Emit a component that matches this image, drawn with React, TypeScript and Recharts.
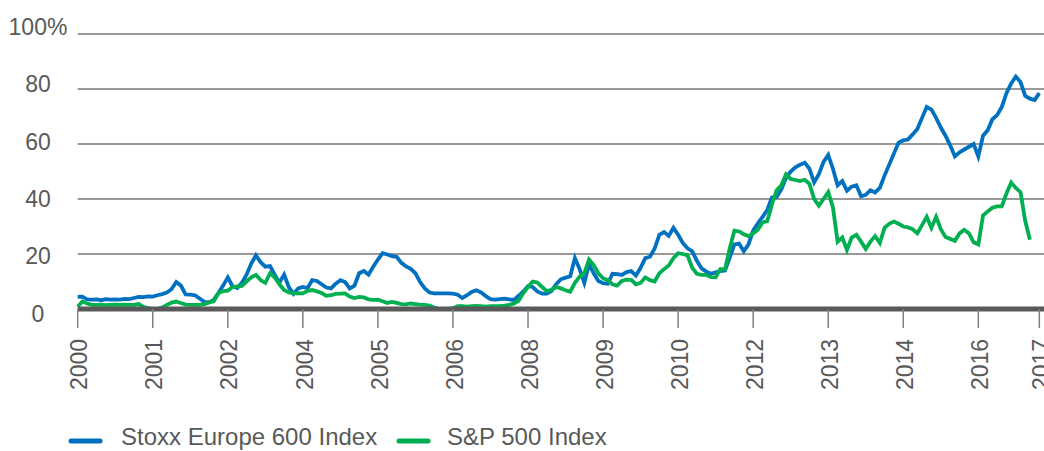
import React from 'react';
import { LineChart, Line, XAxis, YAxis, CartesianGrid } from 'recharts';

// monthly values, index 0 = Jan 2000
const stoxx = [
  4.4, 4.5, 3.5, 3.4, 3.5, 3.2, 3.6, 3.4, 3.5, 3.4,
  3.7, 3.6, 4.0, 4.4, 4.3, 4.6, 4.5, 5.0, 5.4, 6.0,
  7.2, 9.8, 8.5, 5.3, 5.2, 5.0, 3.8, 2.6, 2.4, 3.3,
  5.8, 8.5, 11.5, 8.3, 7.6, 9.5, 12.5, 16.5, 19.5, 17.0,
  15.4, 15.6, 12.5, 9.6, 12.5, 8.0, 5.5, 7.5, 8.0, 7.6,
  10.5, 10.2, 9.0, 7.8, 7.5, 9.2, 10.5, 9.8, 7.5, 8.5,
  13.0, 13.8, 12.5, 15.4, 18.0, 20.3, 19.8, 19.2, 19.0, 16.8,
  15.5, 14.6, 13.0, 9.8, 7.5, 6.0, 5.7, 5.7, 5.7, 5.7,
  5.6, 5.2, 4.0, 5.0, 6.2, 6.8, 6.0, 4.7, 3.6, 3.4,
  3.6, 3.8, 3.5, 3.3, 4.8, 6.4, 8.3, 8.0, 6.4, 5.6,
  5.6, 6.5, 9.0, 10.8, 11.4, 11.9, 18.5, 14.5, 9.5, 16.3,
  13.0, 10.2, 9.4, 9.2, 12.8, 12.7, 12.4, 13.4, 13.8, 12.2,
  15.0, 18.5, 19.0, 22.0, 27.0, 28.0, 26.6, 29.5, 27.0, 24.0,
  22.1, 21.0, 17.5, 14.8, 13.6, 12.8, 13.3, 13.8, 14.0, 18.7,
  23.5, 23.8, 21.0, 23.5, 28.5, 31.2, 33.5, 36.0, 40.5, 40.7,
  43.5, 47.7, 50.0, 51.5, 52.5, 53.2, 51.0, 46.0, 49.0, 53.5,
  56.0, 51.0, 45.0, 46.5, 43.0, 44.5, 45.0, 41.0, 41.5, 43.2,
  42.4, 44.0, 48.5, 52.5, 56.5, 60.5, 61.3, 61.6, 63.5, 65.5,
  69.5, 73.5, 72.5, 69.5, 66.0, 63.0, 59.5, 55.5, 57.0, 58.0,
  59.0, 60.0, 55.5, 63.0, 65.0, 69.0, 70.5, 73.5, 78.5, 82.0,
  84.5, 82.5, 77.5, 76.5, 76.0, 78.5,
];

const sp500 = [
  0.8, 2.7, 2.0, 1.5, 1.5, 1.6, 1.4, 1.5, 1.6, 1.5,
  1.6, 1.5, 1.5, 1.8, 0.8, 0.3, 0, 0, 0.5, 1.5,
  2.3, 2.7, 2.2, 1.6, 1.5, 1.5, 1.5, 1.8, 2.4, 2.8,
  5.8, 6.5, 6.7, 8.0, 8.2, 8.4, 10.0, 11.5, 12.4, 10.5,
  9.5, 13.0, 11.5, 9.0, 6.9, 6.0, 5.7, 5.7, 5.7, 6.6,
  6.9, 6.4, 5.8, 4.8, 5.0, 5.5, 5.6, 5.7, 4.5, 4.0,
  4.4, 4.2, 3.5, 3.3, 3.4, 2.8, 2.2, 2.6, 2.2, 1.8,
  1.7, 2.0, 1.8, 1.6, 1.5, 1.2, 0.5, 0, 0, 0,
  0.3, 1.0, 1.0, 0.9, 1.0, 1.1, 1.0, 0.9, 1.0, 1.0,
  1.0, 1.2, 1.5, 2.0, 3.0, 5.8, 8.0, 10.0, 9.6, 8.0,
  6.5, 7.0, 8.0, 7.5, 6.8, 6.3, 9.5, 11.8, 13.0, 18.0,
  16.0, 13.0, 11.2, 10.5, 9.0, 8.5, 10.2, 10.7, 10.6, 9.0,
  9.5, 11.5, 10.5, 10.0, 13.0, 14.5, 15.8, 18.5, 20.3, 20.0,
  19.5, 15.0, 12.8, 12.4, 12.4, 11.6, 11.5, 14.5, 14.5, 22.0,
  28.5, 28.2, 27.2, 26.5, 27.5, 28.8, 31.5, 31.9, 38.0, 43.2,
  45.0, 49.0, 47.3, 46.9, 46.5, 47.0, 45.5, 40.0, 37.6, 40.0,
  42.5, 37.0, 24.5, 26.0, 21.5, 26.0, 27.0, 24.5, 21.8, 24.5,
  26.5, 24.0, 29.5, 31.0, 31.8, 31.0, 30.0, 29.7, 29.0, 27.5,
  30.5, 33.5, 29.5, 33.5, 29.0, 26.2, 25.5, 24.8, 27.5, 28.8,
  27.5, 24.3, 23.5, 34.0, 35.5, 36.8, 37.3, 37.3, 42.0, 46.0,
  44.0, 42.5, 32.0, 25.2,
];

const tickMonths = [0, 16, 32, 48, 64, 80, 96, 112, 128, 144, 160, 176, 192, 205];
const tickLabels = ['2000', '2001', '2002', '2004', '2005', '2006', '2008', '2009', '2010', '2012', '2013', '2014', '2016', '2017'];
const yTicks = [0, 20, 40, 60, 80, 100];

const data = stoxx.map((v, i) => ({
  m: i,
  stoxx: v,
  sp500: i < sp500.length ? sp500[i] : null,
}));

const FONT = '"Liberation Sans", Arial, sans-serif';
const TEXT = '#595959';

const XTick = (props: any) => {
  const { x, payload } = props;
  const idx = tickMonths.indexOf(payload.value);
  return (
    <g transform={`translate(${x},390) rotate(-90)`}>
      <text x={0} y={0} dy="0.42em" textAnchor="start" fill={TEXT} fontSize={23} fontFamily={FONT}>
        {tickLabels[idx]}
      </text>
    </g>
  );
};

const YTick = (props: any) => {
  const { y, payload } = props;
  const v = payload.value;
  const shift = -(v - 40) * 0.12;
  return (
    <text x={38} y={y + shift} dy="0.35em" textAnchor="middle" fill={TEXT} fontSize={23} fontFamily={FONT}>
      {v === 100 ? '100%' : v}
    </text>
  );
};

export default function App() {
  return (
    <div style={{ position: 'fixed', left: 0, top: 0, width: 1044, height: 451, background: '#fff' }}>
      <LineChart width={1044} height={451} data={data} margin={{ top: 34, right: 0, bottom: 52, left: 0 }}>
        <CartesianGrid vertical={false} stroke="#777777" strokeWidth={1.5} />
        <YAxis
          width={77.7}
          domain={[0, 100]}
          ticks={yTicks}
          axisLine={false}
          tickLine={false}
          tick={<YTick />}
        />
        <Line type="linear" dataKey="stoxx" stroke="#0070c0" strokeWidth={3.8} dot={false} isAnimationActive={false} />
        <Line type="linear" dataKey="sp500" stroke="#00b050" strokeWidth={3.8} dot={false} isAnimationActive={false} connectNulls={false} />
        <XAxis
          dataKey="m"
          type="number"
          domain={[0, 206]}
          ticks={tickMonths}
          height={90}
          axisLine={{ stroke: '#595959', strokeWidth: 5 }}
          tickLine={{ stroke: '#7f7f7f', strokeWidth: 1.5 }}
          tickSize={19}
          tick={<XTick />}
          interval={0}
        />
      </LineChart>
      <svg width={1044} height={451} style={{ position: 'absolute', left: 0, top: 0, pointerEvents: 'none' }}>
        <line x1={71} y1={441} x2={100} y2={441} stroke="#0070c0" strokeWidth={5} strokeLinecap="round" />
        <text x={121} y={445} fill={TEXT} fontSize={24} fontFamily={FONT}>Stoxx Europe 600 Index</text>
        <line x1={399} y1={441} x2={428} y2={441} stroke="#00b050" strokeWidth={5} strokeLinecap="round" />
        <text x={447} y={445} fill={TEXT} fontSize={24} fontFamily={FONT}>S&amp;P 500 Index</text>
      </svg>
    </div>
  );
}
